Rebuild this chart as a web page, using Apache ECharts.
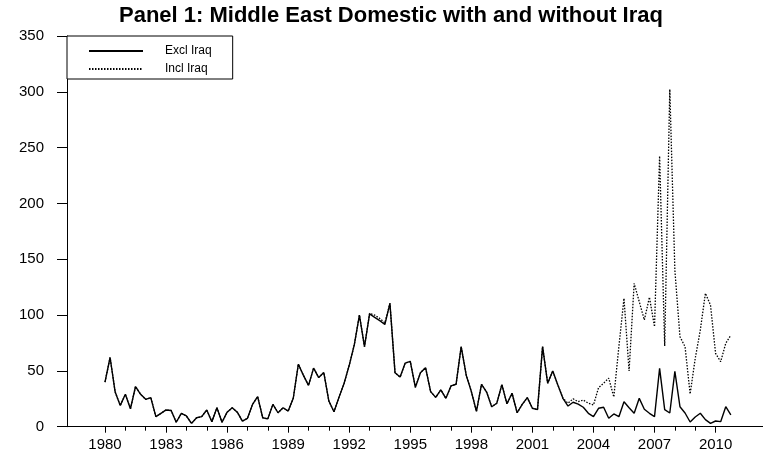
<!DOCTYPE html>
<html>
<head>
<meta charset="utf-8">
<script src="https://cdn.jsdelivr.net/npm/echarts@6/dist/echarts.min.js"></script>
<style>
  html, body { margin: 0; padding: 0; background: #fff; }
  #chart { width: 763px; height: 458px; }
</style>
</head>
<body>
<div id="chart"></div>
<script>
// Quarterly series, 1980Q1 - 2010Q4
const firstYear = 1980;

const exclIraq = [
  40, 62, 31, 19, 29, 16, 36, 29, 24.5, 26, 9, 12, 15, 14.5, 4, 12,
  9.6, 3, 8, 9, 15, 4.5, 17, 4, 13, 17, 13, 5, 7.5, 20, 27, 8,
  7, 20, 12.5, 17, 14, 25.5, 56, 46, 37, 52.5, 44, 48.5, 23, 13.4, 26.5, 39,
  55, 73.5, 100, 71.7, 101, 98, 95, 91.5, 110.5, 48.4, 44.5, 57, 58.5, 35.3, 48.4, 52.9,
  31.4, 26.3, 33, 25.4, 36.5, 38, 71.7, 46, 31.5, 13.7, 38, 31, 17.9, 21, 37.7, 20.5,
  30, 12.5, 20, 26, 16.5, 15.3, 71.7, 38.9, 49.9, 37.4, 25.4, 18.5, 21.9, 20.3, 17.4, 12,
  9, 16.5, 17.4, 7.5, 11.4, 9, 22.4, 17, 12, 25.4, 15.6, 12, 9, 52.3, 15.3, 12.3,
  49.6, 17.9, 12.3, 4.2, 8.7, 12, 6.3, 3, 5.1, 4.5, 17.9, 10.5
];

const inclIraq = [
  40, 62, 31, 19, 29, 16, 36, 29, 24.5, 26, 9, 12, 15, 14.5, 4, 12,
  9.6, 3, 8, 9, 15, 4.5, 17, 4, 13, 17, 13, 5, 7.5, 20, 27, 8,
  7, 20, 12.5, 17, 14, 25.5, 56, 46, 37, 52.5, 44, 48.5, 23, 13.4, 26.5, 39,
  55, 73.5, 100, 71.7, 101.5, 100, 97, 93, 110.5, 48.4, 44.5, 57, 58.5, 35.3, 48.4, 52.9,
  31.4, 26.3, 33, 25.4, 36.5, 38, 71.7, 46, 31.5, 13.7, 38, 31, 17.9, 21, 37.7, 20.5,
  30, 12.5, 20, 26, 16.5, 15.3, 71.7, 38.9, 49.9, 37.4, 25.4, 21, 25, 22.4, 23.9, 21,
  19.4, 35, 39, 43.5, 26.6, 72, 115, 50, 128.4, 112, 95.6, 116, 89.6, 242.5, 72.3, 302.2,
  140, 80.6, 71.7, 29.3, 61.2, 86.6, 119.5, 109, 65.7, 58.2, 74.7, 82.1
];

const yearTicks = [];
for (let y = 1980; y <= 2010; y++) yearTicks.push(y);
const yearLabels = [1980, 1983, 1986, 1989, 1992, 1995, 1998, 2001, 2004, 2007, 2010];

const toPoints = arr => arr.map((v, i) => [firstYear + i / 4, v]);

const FONT = '"Liberation Sans", Arial, sans-serif';

const chart = echarts.init(document.getElementById('chart'), null, { renderer: 'canvas' });

const xMin = 1978.133, xMax = 2012.33;

chart.setOption({
  animation: false,
  backgroundColor: '#ffffff',
  title: {
    text: 'Panel 1: Middle East Domestic with and without Iraq',
    left: 119,
    top: 5,
    padding: 0,
    textStyle: { fontFamily: FONT, fontWeight: 'bold', fontSize: 22, color: '#000' }
  },
  legend: {
    orient: 'vertical',
    left: 67,
    top: 36,
    padding: [9, 21, 4, 21],
    itemWidth: 54,
    itemHeight: 12,
    itemGap: 6,
    backgroundColor: '#fff',
    borderColor: '#000',
    borderWidth: 1,
    selectedMode: false,
    itemStyle: { opacity: 0, borderWidth: 0 },
    textStyle: { fontFamily: FONT, fontSize: 12, color: '#000', padding: [0, 0, 0, 17] },
    data: ['Excl Iraq', 'Incl Iraq']
  },
  grid: { left: 67, right: 0, top: 36, bottom: 31.3, containLabel: false },
  xAxis: [
    {
      type: 'value', min: xMin, max: xMax,
      axisLine: { show: true, lineStyle: { color: '#000', width: 1 } },
      axisTick: { show: true, length: 6, customValues: yearLabels, lineStyle: { color: '#000' } },
      axisLabel: { show: true, customValues: yearLabels, margin: 11,
        fontFamily: FONT, fontSize: 15, color: '#000', formatter: v => String(Math.round(v)) },
      splitLine: { show: false }
    },
    {
      type: 'value', min: xMin, max: xMax, position: 'bottom',
      axisLine: { show: false },
      axisTick: { show: true, length: 4, customValues: yearTicks, lineStyle: { color: '#000' } },
      axisLabel: { show: false },
      splitLine: { show: false }
    }
  ],
  yAxis: {
    type: 'value', min: 0, max: 350, interval: 50,
    axisLine: { show: true, lineStyle: { color: '#000', width: 1 } },
    axisTick: { show: true, length: 10, lineStyle: { color: '#000' } },
    axisLabel: { margin: 23, fontFamily: FONT, fontSize: 15, color: '#000' },
    splitLine: { show: false }
  },
  series: [
    {
      name: 'Excl Iraq', type: 'line', xAxisIndex: 0,
      data: toPoints(exclIraq), symbol: 'none', z: 3,
      lineStyle: { color: '#000', width: 1.4, type: 'solid' },
      itemStyle: { color: '#000' }
    },
    {
      name: 'Incl Iraq', type: 'line', xAxisIndex: 0,
      data: toPoints(inclIraq), symbol: 'none', z: 2,
      lineStyle: { color: '#000', width: 1.3, type: [1.5, 1.5] },
      itemStyle: { color: '#000' }
    }
  ]
});
</script>
</body>
</html>
